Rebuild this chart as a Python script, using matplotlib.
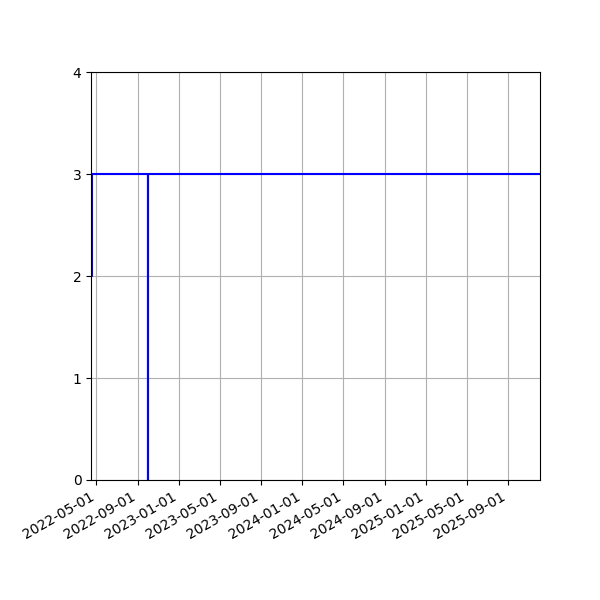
import matplotlib
matplotlib.use("Agg")
import matplotlib.pyplot as plt
import matplotlib.dates as mdates
import pandas as pd

dates = pd.to_datetime(["2022-04-16", "2022-04-17", "2022-10-01", "2022-10-02", "2025-12-04"])
values = [2, 3, 0, 3, 3]

fig = plt.figure(figsize=(6, 6), dpi=100)
ax = fig.add_subplot(111)
ax.plot(dates, values, color="blue", drawstyle="steps-post", linewidth=1.5)
ax.set_xlim(dates[0], dates[-1])
ax.set_ylim(0, 4)
ax.set_yticks([0, 1, 2, 3, 4])
ax.xaxis.set_major_locator(mdates.MonthLocator(bymonth=[1, 5, 9]))
ax.xaxis.set_major_formatter(mdates.DateFormatter("%Y-%m-%d"))
ax.grid(True)
fig.autofmt_xdate()
fig.subplots_adjust(left=0.152, right=0.9, top=0.88, bottom=0.2)
fig.savefig("out.png", dpi=100)
